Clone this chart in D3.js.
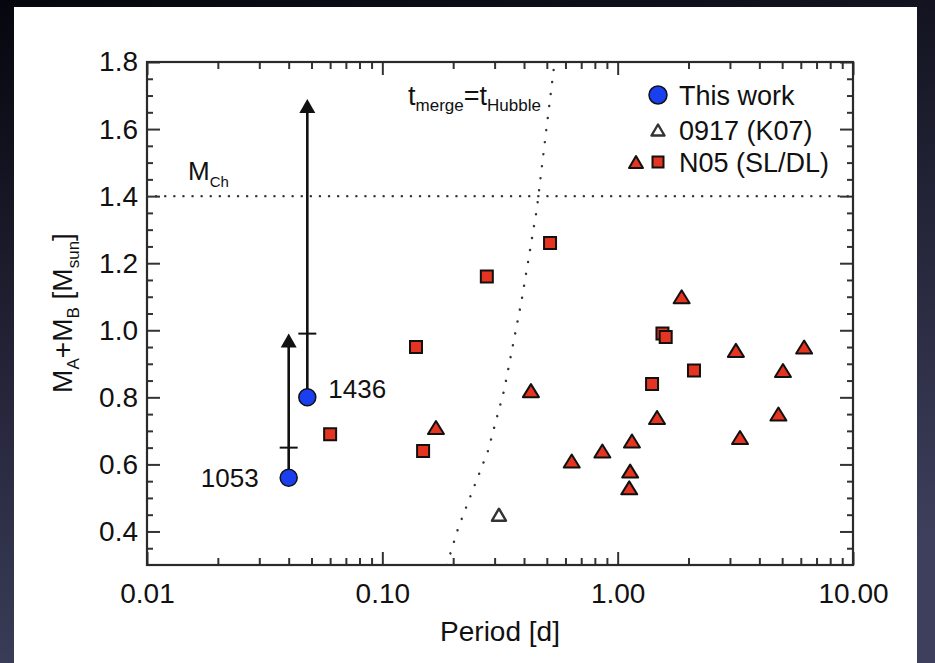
<!DOCTYPE html>
<html>
<head>
<meta charset="utf-8">
<script src="https://cdn.jsdelivr.net/npm/d3@7"></script>
<style>
body { margin: 0; background: #000; }
text { font-family: "Liberation Sans", Arial, Helvetica, sans-serif; fill: #111; }
</style>
</head>
<body>
<div id="chart"></div>
<script>
// ---- data ----
// this work (lower mass, crossbar, upper limit arrow tip)
var twNames = ["1053", "1436"];
var twPeriod = [0.040, 0.048];
var twMass = [0.56, 0.80];
var twBar = [0.65, 0.99];
var twLimit = [0.99, 1.69];

// 0917 (K07)
var k07Period = [0.313];
var k07Mass = [0.45];

// N05 single-lined (triangles)
var slPeriod = [0.169, 0.428, 0.638, 0.861, 1.12, 1.13, 1.15, 1.47, 1.87, 3.18, 3.31, 4.82, 5.04, 6.2];
var slMass = [0.71, 0.82, 0.61, 0.64, 0.53, 0.58, 0.67, 0.74, 1.10, 0.94, 0.68, 0.75, 0.88, 0.95];

// N05 double-lined (squares)
var dlPeriod = [0.060, 0.139, 0.149, 0.278, 0.516, 1.40, 1.55, 1.60, 2.11];
var dlMass = [0.69, 0.95, 0.64, 1.16, 1.26, 0.84, 0.99, 0.98, 0.88];

// t_merge = t_Hubble curve
var hubblePeriod = [0.188, 0.21, 0.281, 0.329, 0.391, 0.453, 0.494, 0.533, 0.54];
var hubbleMass = [0.30, 0.41, 0.64, 0.82, 1.09, 1.36, 1.58, 1.77, 1.80];

var mChandra = 1.4;

var xTicks = [0.01, 0.1, 1, 10];
var xTickLabels = ["0.01", "0.10", "1.00", "10.00"];
var yTicks = [0.4, 0.6, 0.8, 1.0, 1.2, 1.4, 1.6, 1.8];
var yMinor = [0.35, 0.45, 0.5, 0.55, 0.65, 0.7, 0.75, 0.85, 0.9, 0.95, 1.05, 1.1, 1.15,
              1.25, 1.3, 1.35, 1.45, 1.5, 1.55, 1.65, 1.7, 1.75];
var xMinor = [0.02, 0.03, 0.04, 0.05, 0.06, 0.07, 0.08, 0.09,
              0.2, 0.3, 0.4, 0.5, 0.6, 0.7, 0.8, 0.9,
              2, 3, 4, 5, 6, 7, 8, 9];

var red = "#e5341f";
var blue = "#1a3ff0";

var width = 935, height = 663;
// plot box (window.top is read-only, so no plain "top")
var pLeft = 147, pRight = 853, pTop = 62, pBottom = 565;

var svg = d3.select("#chart").append("svg")
    .attr("width", width)
    .attr("height", height);

// dark slide background with the white figure on it
var defs = svg.append("defs");
var grad = defs.append("linearGradient").attr("id", "bg")
    .attr("x1", 0).attr("y1", 0).attr("x2", 0.25).attr("y2", 1);
grad.append("stop").attr("offset", "0").attr("stop-color", "#06060e");
grad.append("stop").attr("offset", "1").attr("stop-color", "#3d3f5c");
svg.append("rect").attr("width", width).attr("height", height).attr("fill", "url(#bg)");
svg.append("rect").attr("x", 14).attr("y", 7).attr("width", 903).attr("height", height - 7)
    .attr("fill", "#fff");

defs.append("clipPath").attr("id", "plotClip").append("rect")
    .attr("x", pLeft).attr("y", pTop).attr("width", pRight - pLeft).attr("height", pBottom - pTop);

var x = d3.scaleLog().domain([0.01, 10]).range([pLeft, pRight]);
var y = d3.scaleLinear().domain([0.3, 1.8]).range([pBottom, pTop]);

// axes: ticks point inward on all four sides
function styleAxis(g) {
    g.select(".domain").remove();
    g.selectAll(".tick line").attr("stroke", "#333").attr("stroke-width", 2);
    g.selectAll(".tick text").attr("font-size", 28).attr("fill", "#111")
        .attr("font-family", "'Liberation Sans', Arial, sans-serif");
}

svg.append("g").attr("transform", "translate(0," + pBottom + ")")
    .call(d3.axisBottom(x).tickValues(xTicks).tickSize(-13).tickPadding(18)
        .tickFormat(function(d, i) { return xTickLabels[i]; }))
    .call(styleAxis);
svg.append("g").attr("transform", "translate(0," + pBottom + ")")
    .call(d3.axisBottom(x).tickValues(xMinor).tickSize(-7).tickFormat(""))
    .call(styleAxis);
svg.append("g").attr("transform", "translate(0," + pTop + ")")
    .call(d3.axisTop(x).tickValues(xTicks).tickSize(-13).tickFormat(""))
    .call(styleAxis);
svg.append("g").attr("transform", "translate(0," + pTop + ")")
    .call(d3.axisTop(x).tickValues(xMinor).tickSize(-7).tickFormat(""))
    .call(styleAxis);

svg.append("g").attr("transform", "translate(" + pLeft + ",0)")
    .call(d3.axisLeft(y).tickValues(yTicks).tickSize(-13).tickPadding(9)
        .tickFormat(d3.format(".1f")))
    .call(styleAxis);
svg.append("g").attr("transform", "translate(" + pLeft + ",0)")
    .call(d3.axisLeft(y).tickValues(yMinor).tickSize(-6).tickFormat(""))
    .call(styleAxis);
svg.append("g").attr("transform", "translate(" + pRight + ",0)")
    .call(d3.axisRight(y).tickValues(yTicks).tickSize(-13).tickFormat(""))
    .call(styleAxis);
svg.append("g").attr("transform", "translate(" + pRight + ",0)")
    .call(d3.axisRight(y).tickValues(yMinor).tickSize(-6).tickFormat(""))
    .call(styleAxis);

svg.append("rect")
    .attr("x", pLeft).attr("y", pTop)
    .attr("width", pRight - pLeft).attr("height", pBottom - pTop)
    .attr("fill", "none").attr("stroke", "#2a2a2a").attr("stroke-width", 2.2);

// axis titles
svg.append("text")
    .attr("x", (pLeft + pRight) / 2).attr("y", 641)
    .attr("text-anchor", "middle").attr("font-size", 28)
    .text("Period [d]");

var yTitle = svg.append("text")
    .attr("transform", "translate(72,313) rotate(-90)")
    .attr("text-anchor", "middle").attr("font-size", 28);
yTitle.append("tspan").text("M");
yTitle.append("tspan").attr("font-size", 17).attr("dy", 7).text("A");
yTitle.append("tspan").attr("dy", -7).text("+M");
yTitle.append("tspan").attr("font-size", 17).attr("dy", 7).text("B");
yTitle.append("tspan").attr("dy", -7).text(" [M");
yTitle.append("tspan").attr("font-size", 17).attr("dy", 7).text("sun");
yTitle.append("tspan").attr("dy", -7).text("]");

// reference lines
var plot = svg.append("g").attr("clip-path", "url(#plotClip)");

plot.append("line")
    .attr("x1", pLeft).attr("x2", pRight)
    .attr("y1", y(mChandra)).attr("y2", y(mChandra))
    .attr("stroke", "#333").attr("stroke-width", 2.4)
    .attr("stroke-linecap", "round").attr("stroke-dasharray", "0.1,9");

var hubbleLine = d3.line()
    .x(function(d, i) { return x(hubblePeriod[i]); })
    .y(function(d, i) { return y(hubbleMass[i]); });
plot.append("path")
    .attr("d", hubbleLine(hubbleMass))
    .attr("fill", "none").attr("stroke", "#333").attr("stroke-width", 2.4)
    .attr("stroke-linecap", "round").attr("stroke-dasharray", "0.1,12");

var mch = svg.append("text").attr("x", 188).attr("y", 180).attr("font-size", 26);
mch.append("tspan").text("M");
mch.append("tspan").attr("font-size", 15).attr("dy", 7).text("Ch");

var tm = svg.append("text").attr("x", 408).attr("y", 105).attr("font-size", 27);
tm.append("tspan").text("t");
tm.append("tspan").attr("font-size", 17).attr("dy", 6).text("merge");
tm.append("tspan").attr("dy", -6).text("=t");
tm.append("tspan").attr("font-size", 17).attr("dy", 6).text("Hubble");

// marker shapes
function triPath(w, h) {
    return "M0," + (-h / 2) + "L" + (w / 2) + "," + (h / 2) + "L" + (-w / 2) + "," + (h / 2) + "Z";
}
function sqPath(s) {
    return "M" + (-s / 2) + "," + (-s / 2) + "h" + s + "v" + s + "h" + (-s) + "Z";
}

// this work: limits with arrows and crossbars
var tw = svg.append("g");
twPeriod.forEach(function(p, i) {
    var cx = x(p);
    tw.append("line")
        .attr("x1", cx).attr("x2", cx)
        .attr("y1", y(twMass[i])).attr("y2", y(twLimit[i]) + 10)
        .attr("stroke", "#111").attr("stroke-width", 2.6);
    tw.append("path")
        .attr("transform", "translate(" + cx + "," + (y(twLimit[i]) + 7) + ")")
        .attr("d", triPath(16, 14))
        .attr("fill", "#111");
    tw.append("line")
        .attr("x1", cx - 9).attr("x2", cx + 9)
        .attr("y1", y(twBar[i])).attr("y2", y(twBar[i]))
        .attr("stroke", "#111").attr("stroke-width", 2);
});

// N05 points
svg.append("g").selectAll("path.sl")
    .data(slMass)
    .join("path")
    .attr("class", "sl")
    .attr("transform", function(d, i) { return "translate(" + x(slPeriod[i]) + "," + y(d) + ")"; })
    .attr("d", triPath(16, 13))
    .attr("fill", red).attr("stroke", "#111").attr("stroke-width", 2)
    .attr("stroke-linejoin", "round");

svg.append("g").selectAll("path.dl")
    .data(dlMass)
    .join("path")
    .attr("class", "dl")
    .attr("transform", function(d, i) { return "translate(" + x(dlPeriod[i]) + "," + y(d) + ")"; })
    .attr("d", sqPath(12))
    .attr("fill", red).attr("stroke", "#111").attr("stroke-width", 2);

// 0917 (K07)
svg.append("g").selectAll("path.k07")
    .data(k07Mass)
    .join("path")
    .attr("class", "k07")
    .attr("transform", function(d, i) { return "translate(" + x(k07Period[i]) + "," + y(d) + ")"; })
    .attr("d", triPath(14, 12))
    .attr("fill", "#fff").attr("stroke", "#333").attr("stroke-width", 2.4)
    .attr("stroke-linejoin", "round");

// this work circles and names
svg.append("g").selectAll("circle")
    .data(twMass)
    .join("circle")
    .attr("cx", function(d, i) { return x(twPeriod[i]); })
    .attr("cy", function(d) { return y(d); })
    .attr("r", 8.5)
    .attr("fill", blue).attr("stroke", "#111").attr("stroke-width", 1.5);

svg.append("text").attr("x", x(twPeriod[0]) - 30).attr("y", y(twMass[0]) + 9)
    .attr("text-anchor", "end").attr("font-size", 26).text(twNames[0]);
svg.append("text").attr("x", x(twPeriod[1]) + 21).attr("y", y(twMass[1]) + 1)
    .attr("font-size", 26).text(twNames[1]);

// legend
var lg = svg.append("g");
lg.append("circle").attr("cx", 658).attr("cy", 95).attr("r", 9)
    .attr("fill", blue).attr("stroke", "#111").attr("stroke-width", 1.5);
lg.append("text").attr("x", 679).attr("y", 105).attr("font-size", 27).text("This work");

lg.append("path").attr("transform", "translate(658,130)").attr("d", triPath(13, 11))
    .attr("fill", "#fff").attr("stroke", "#333").attr("stroke-width", 2.4)
    .attr("stroke-linejoin", "round");
lg.append("text").attr("x", 679).attr("y", 140).attr("font-size", 27).text("0917 (K07)");

lg.append("path").attr("transform", "translate(636,162)").attr("d", triPath(14, 12))
    .attr("fill", red).attr("stroke", "#111").attr("stroke-width", 2)
    .attr("stroke-linejoin", "round");
lg.append("path").attr("transform", "translate(658,162)").attr("d", sqPath(11))
    .attr("fill", red).attr("stroke", "#111").attr("stroke-width", 2);
lg.append("text").attr("x", 679).attr("y", 172).attr("font-size", 27).text("N05 (SL/DL)");
</script>
</body>
</html>
